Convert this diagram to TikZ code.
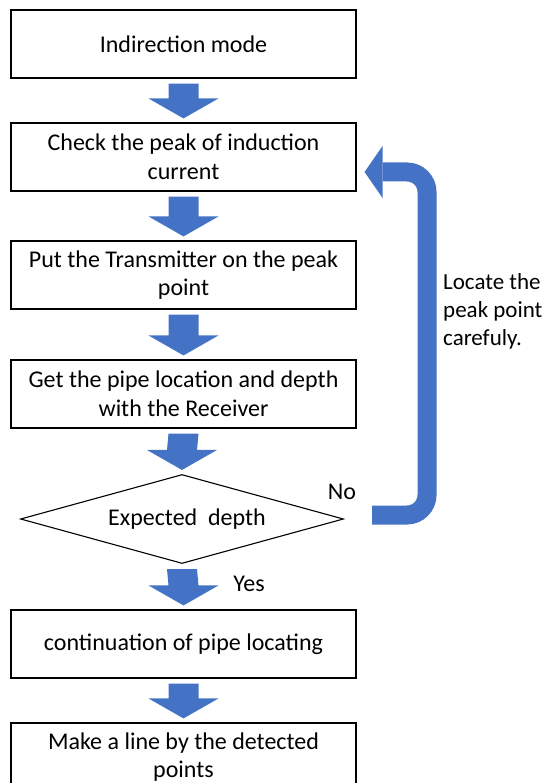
\documentclass[tikz,border=0pt]{standalone}
\usepackage{fontspec}
\setmainfont{Carlito}
\usetikzlibrary{shapes.geometric,calc}
\definecolor{officeblue}{RGB}{68,114,196}
\tikzset{
  stepbox/.style={draw=black, line width=1.1pt, fill=white, minimum width=345pt, minimum height=68pt, align=center, inner sep=2pt, font=\fontsize{24}{28.5}\selectfont},
  decision/.style={diamond, draw=black, line width=1.1pt, minimum width=323pt, minimum height=89pt, aspect=3.63, inner sep=0pt, font=\fontsize{24}{28}\selectfont},
  flowarrow/.style={fill=officeblue},
  lbl/.style={font=\fontsize{24}{28}\selectfont, inner sep=0pt},
}
\newcommand{\blockarr}[2]{%
  \fill[flowarrow] ($(#1.south)+(-15,5)$) -- ($(#1.south)+(15,5)$) -- ($(#2.north)+(15,-24)$) -- ($(#2.north)+(35,-24)$) -- ($(#2.north)+(0,-4)$) -- ($(#2.north)+(-35,-24)$) -- ($(#2.north)+(-15,-24)$) -- cycle;}
\begin{document}
\begin{tikzpicture}[x=1pt, y=-1pt]
\useasboundingbox (0,0) rectangle (554,783);
\node[stepbox] (b1) at (183.5,44) {Indirection mode};
\node[stepbox] (b2) at (183.5,157) {Check the peak of induction\\current};
\node[stepbox] (b3) at (183.5,275) {Put the Transmitter on the peak\\point};
\node[stepbox] (b4) at (183.5,394) {Get the pipe location and depth\\with the Receiver};
\node[decision] (d) at (182,519) {\hspace{10pt}Expected\ \ depth};
\node[stepbox] (b5) at (183.5,644) {continuation of pipe locating};
\node[stepbox] (b6) at (183.5,757) {Make a line by the detected\\points};
\blockarr{b1}{b2}
\blockarr{b2}{b3}
\blockarr{b3}{b4}
\blockarr{b4}{d}
\blockarr{d}{b5}
\blockarr{b5}{b6}
\node[lbl] (no) at (342,492) {No};
\node[lbl] (yes) at (249,584) {Yes};
\coordinate (ls) at ($(d.east)+(28,-4)$);
\coordinate (le) at ($(b2.east)+(26,15)$);
\coordinate (lt) at ($(b2.east)+(8,15)$);
\draw[officeblue, line width=19pt, rounded corners=20pt] (ls) -- (427,515) -- (427,172) -- (le);
\fill[officeblue] ($(le)+(0,-26)$) -- (lt) -- ($(le)+(0,26)$) -- cycle;
\node[lbl, font=\fontsize{23}{28}\selectfont, align=left, anchor=west] (note) at (443,311) {Locate the\\peak point\\carefuly.};
\end{tikzpicture}
\end{document}
